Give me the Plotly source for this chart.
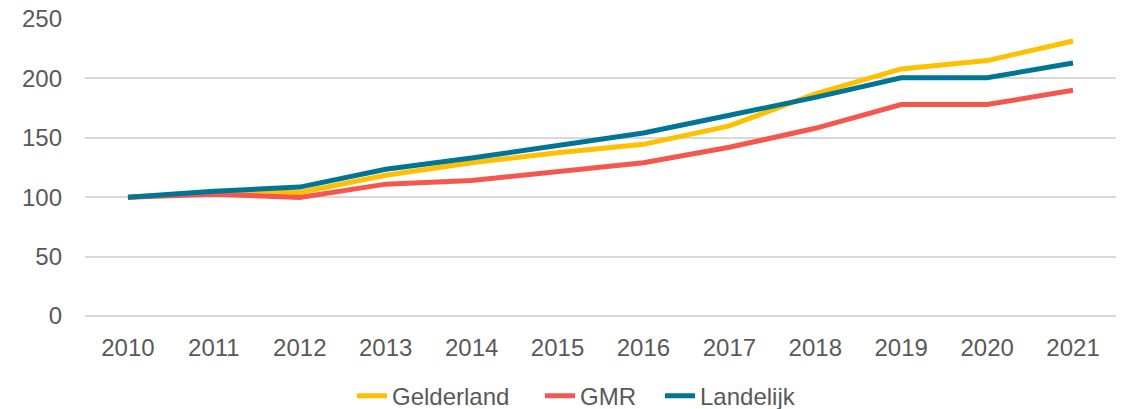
import plotly.graph_objects as go

years = ["2010", "2011", "2012", "2013", "2014", "2015", "2016", "2017", "2018", "2019", "2020", "2021"]
gelderland = [100, 104, 104, 118.5, 129, 137.5, 144.5, 160, 187, 208, 215, 231.5]
gmr = [100, 102.5, 99.7, 111, 114, 122, 129, 142, 158, 178, 178, 190]
landelijk = [100, 105, 108.5, 123.5, 133, 143, 154, 169, 184, 200.5, 200.5, 213]

series = [
    ("Gelderland", gelderland, "#FFC000", "legend"),
    ("GMR", gmr, "#F5574F", "legend2"),
    ("Landelijk", landelijk, "#007694", "legend3"),
]

fig = go.Figure()
for name, vals, color, leg in series:
    fig.add_trace(go.Scatter(
        x=years, y=vals, name=name, mode="lines",
        line=dict(color=color, width=5), legend=leg,
    ))

font_family = "Liberation Sans, Arial, sans-serif"
fs = 24
W_L, W_R = 85, 9
plot_w = 1125 - W_L - W_R


def leg(text_x):
    left = text_x - 40
    return dict(
        orientation="h", x=(left - W_L) / plot_w, xanchor="left",
        y=-0.27, yanchor="middle", bgcolor="rgba(0,0,0,0)",
        font=dict(family=font_family, size=fs, color="#595959"),
    )


fig.update_layout(
    width=1125, height=409,
    margin=dict(l=W_L, r=W_R, t=19, b=93, autoexpand=False),
    paper_bgcolor="white", plot_bgcolor="white",
    font=dict(family=font_family, size=fs, color="#595959"),
    showlegend=True,
    legend=leg(392),
    legend2=leg(580),
    legend3=leg(700),
    xaxis=dict(
        type="category", range=[-0.5, 11.5], showgrid=False, showline=False,
        ticks="", tickfont=dict(size=fs, color="#595959"), zeroline=False,
        ticklabelstandoff=15,
    ),
    yaxis=dict(
        range=[0, 250], tickvals=[0, 50, 100, 150, 200, 250],
        showgrid=True, gridcolor="#D9D9D9", gridwidth=1.5,
        zeroline=True, zerolinecolor="#D9D9D9", zerolinewidth=1.5,
        showline=False, ticks="", ticklabelstandoff=22,
        tickfont=dict(size=fs, color="#595959"),
    ),
)

fig.write_html(
    "out.html",
    config={"displayModeBar": False},
    post_script="document.body.style.margin='0';document.body.style.overflow='hidden';",
)
